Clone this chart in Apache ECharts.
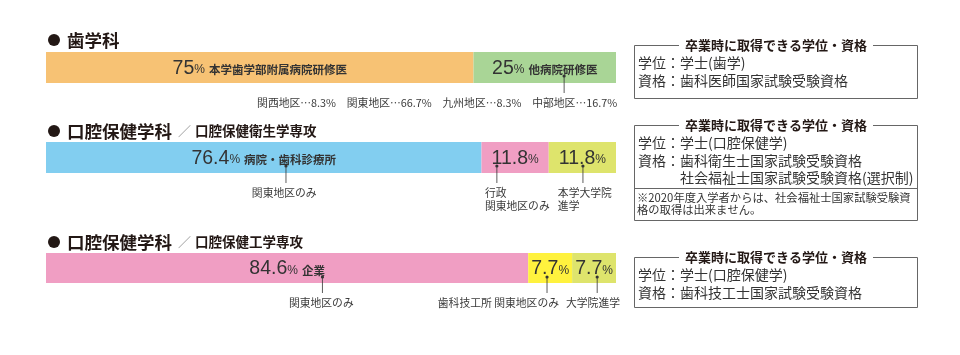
<!DOCTYPE html>
<html lang="ja">
<head>
<meta charset="utf-8">
<title>卒業後の進路</title>
<script src="https://cdn.jsdelivr.net/npm/echarts@6/dist/echarts.min.js"></script>
<style>
  html, body { margin: 0; padding: 0; background: #fff; }
  #main { width: 960px; height: 355px; }
</style>
</head>
<body>
<div id="main"></div>
<script>
// --- data ---------------------------------------------------------------
const rows = ['歯学科', '口腔保健衛生学専攻', '口腔保健工学専攻'];

const dentalNames  = ['本学歯学部附属病院研修医', '他病院研修医'];
const dentalValues = [75, 25];

const hygieneNames  = ['病院・歯科診療所', '行政', '本学大学院進学'];
const hygieneLabels = ['病院・歯科診療所', '', ''];
const hygieneValues = [76.4, 11.8, 11.8];

const techNames  = ['企業', '歯科技工所', '大学院進学'];
const techLabels = ['企業', '', ''];
const techValues = [84.6, 7.7, 7.7];

const dentalRegions = ['関西地区…8.3%', '関東地区…66.7%', '九州地区…8.3%', '中部地区…16.7%'];

// notes under the bars: grid, leader position (axis value), text lines, text anchor
const notes = [
  { grid: 0, at: 90.9, lines: [dentalRegions.join('　')], textAt: 100.2, align: 'right' },
  { grid: 1, at: 42.1, lines: ['関東地区のみ'], textAt: 41.8, align: 'center' },
  { grid: 1, at: 79.1, lines: ['行政', '関東地区のみ'], textAt: 77.0, align: 'left' },
  { grid: 1, at: 94.2, lines: ['本学大学院', '進学'], textAt: 89.8, align: 'left' },
  { grid: 2, at: 48.5, lines: ['関東地区のみ'], textAt: 48.3, align: 'center' },
  { grid: 2, at: 87.9, lines: ['歯科技工所 関東地区のみ'], textAt: 90.0, align: 'right' },
  { grid: 2, at: 96.7, lines: ['大学院進学'], textAt: 100.7, align: 'right' }
];

const boxes = [
  { top: 45, height: 53, lines: ['学位：学士(歯学)', '資格：歯科医師国家試験受験資格'] },
  { top: 125, height: 95, lines: ['学位：学士(口腔保健学)', '資格：歯科衛生士国家試験受験資格', '　　　社会福祉士国家試験受験資格(選択制)'],
    note: ['※2020年度入学者からは、社会福祉士国家試験受験資', '格の取得は出来ません。'] },
  { top: 257, height: 50, lines: ['学位：学士(口腔保健学)', '資格：歯科技工士国家試験受験資格'] }
];
const boxTitle = '卒業時に取得できる学位・資格';

// --- styles -------------------------------------------------------------
const colors = [
  ['#F7C274', '#A9D596'],
  ['#82CEF0', '#F09EC3', '#DEE46C'],
  ['#F09EC3', '#FFF23E', '#DEE46C']
];
const JP = '"Noto Sans CJK JP", sans-serif';
const NUM = '"Liberation Sans", Arial, sans-serif';
const ink = '#333';

const grids = [
  { left: 46, width: 570, top: 52, height: 31 },
  { left: 46, width: 570, top: 142, height: 31 },
  { left: 46, width: 570, top: 253, height: 30 }
];

const rich = {
  num: { fontFamily: NUM, fontSize: 19.5, color: ink },
  pct: { fontFamily: NUM, fontSize: 12, color: ink, padding: [3, 0, 0, 0] },
  txt: { fontFamily: JP, fontSize: 11.5, color: ink, fontWeight: 'bold', padding: [3, 0, 0, 4] }
};

function segSeries(gi, names, labels, values) {
  return values.map((v, i) => ({
    type: 'bar',
    name: names[i],
    stack: 'row' + gi,
    xAxisIndex: gi,
    yAxisIndex: gi,
    barWidth: '100%',
    itemStyle: { color: colors[gi][i] },
    label: {
      show: true,
      position: 'inside',
      offset: [0, 1],
      formatter: '{num|' + v + '}{pct|%}' + (labels[i] ? '{txt|' + labels[i] + '}' : ''),
      rich: rich
    },
    data: [v]
  }));
}

const series = [
  ...segSeries(0, dentalNames, dentalNames, dentalValues),
  ...segSeries(1, hygieneNames, hygieneLabels, hygieneValues),
  ...segSeries(2, techNames, techLabels, techValues)
];

const chart = echarts.init(document.getElementById('main'), null, { renderer: 'canvas' });
chart.setOption({
  animation: false,
  grid: grids,
  xAxis: grids.map((g, i) => ({ type: 'value', gridIndex: i, min: 0, max: 100, show: false })),
  yAxis: grids.map((g, i) => ({ type: 'category', gridIndex: i, data: [rows[i]], show: false })),
  series: series
});

// --- headings, notes and boxes ----------------------------------------------
const graphics = [];

function heading(y, main, sub) {
  graphics.push({ type: 'circle', shape: { cx: 54, cy: y, r: 6 }, style: { fill: '#231815' } });
  graphics.push({
    type: 'text', x: 67, y: y,
    style: {
      text: '{a|' + main + '}' + (sub ? '{s|／}{b|' + sub + '}' : ''),
      verticalAlign: 'middle',
      rich: {
        a: { fontFamily: JP, fontSize: 17.5, fontWeight: 'bold', fill: '#231815' },
        s: { fontFamily: JP, fontSize: 13, fill: '#999', padding: [0, 4, 0, 6] },
        b: { fontFamily: JP, fontSize: 13.5, fontWeight: 'bold', fill: '#231815' }
      }
    }
  });
}
heading(40, rows[0]);
heading(131, '口腔保健学科', rows[1]);
heading(242, '口腔保健学科', rows[2]);

notes.forEach(n => {
  const g = grids[n.grid];
  const barTop = g.top, barBottom = g.top + g.height;
  const lx = chart.convertToPixel({ gridIndex: n.grid }, [n.at, 0])[0];
  const tx = chart.convertToPixel({ gridIndex: n.grid }, [n.textAt, 0])[0];
  const dotY = barTop + 24;
  graphics.push({
    type: 'line', z: 100,
    shape: { x1: lx, y1: dotY, x2: lx, y2: barBottom + 10 },
    style: { stroke: '#333', lineWidth: 0.8 }
  });
  graphics.push({ type: 'circle', z: 100, shape: { cx: lx, cy: dotY, r: 1.6 }, style: { fill: '#333' } });
  graphics.push({
    type: 'text', z: 100, x: tx, y: barBottom + 13,
    style: {
      text: n.lines.join('\n'),
      align: n.align,
      verticalAlign: 'top',
      fontFamily: JP, fontSize: 10.8, lineHeight: 13.5, fill: '#3a3a3a'
    }
  });
});

boxes.forEach(b => {
  graphics.push({
    type: 'rect',
    shape: { x: 634.5, y: b.top + 0.5, width: 283, height: b.height },
    style: { fill: 'none', stroke: '#666', lineWidth: 1 }
  });
  graphics.push({
    type: 'text', x: 776, y: b.top,
    style: {
      text: boxTitle, align: 'center', verticalAlign: 'middle',
      fontFamily: JP, fontSize: 13, fontWeight: 'bold', fill: '#231815',
      backgroundColor: '#fff', padding: [0, 6]
    }
  });
  b.lines.forEach((t, i) => {
    graphics.push({
      type: 'text', x: 638, y: b.top + 18 + i * 17.5,
      style: { text: t, verticalAlign: 'middle', fontFamily: JP, fontSize: 14, fill: ink }
    });
  });
  if (b.note) {
    const sy = b.top + 63;
    graphics.push({
      type: 'line',
      shape: { x1: 635, y1: sy + 0.5, x2: 917, y2: sy + 0.5 },
      style: { stroke: '#666', lineWidth: 1 }
    });
    graphics.push({
      type: 'text', x: 637, y: sy + 3,
      style: { text: b.note.join('\n'), verticalAlign: 'top', fontFamily: JP, fontSize: 11.3, lineHeight: 12.5, fill: ink }
    });
  }
});

chart.setOption({ graphic: graphics });
</script>
</body>
</html>
